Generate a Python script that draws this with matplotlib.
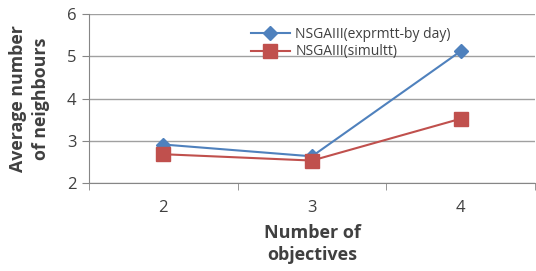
import matplotlib.pyplot as plt
import numpy as np

categories = ['2', '3', '4']
exprmtt = [2.91, 2.63, 5.12]
simultt = [2.68, 2.53, 3.52]
series_names = ['NSGAIII(exprmtt-by day)', 'NSGAIII(simultt)']

plt.rcParams['font.family'] = ['Open Sans', 'DejaVu Sans']

fig = plt.figure(figsize=(5.36, 2.71), dpi=100)
ax = fig.add_axes([0.166, 0.325, 0.832, 0.623])

x = np.arange(len(categories))
ax.plot(x, exprmtt, color='#4F81BD', linewidth=1.5, marker='D', markersize=7,
        label=series_names[0], zorder=3)
ax.plot(x, simultt, color='#C0504D', linewidth=1.5, marker='s', markersize=10,
        label=series_names[1], zorder=3)

ax.set_xlim(-0.5, 2.5)
ax.set_ylim(2, 6)
ax.set_yticks([2, 3, 4, 5, 6])
ax.set_xticks(x)
ax.set_xticklabels(categories)
ax.set_xticks([-0.5, 0.5, 1.5, 2.5], minor=True)
ax.tick_params(axis='x', which='major', length=0, pad=12, labelsize=12, colors='#404040')
ax.tick_params(axis='x', which='minor', length=5, direction='out', color='#868686')
ax.tick_params(axis='y', length=5, direction='out', color='#868686', labelsize=12,
               labelcolor='#404040', pad=4)

ax.grid(axis='y', color='#a0a0a0', linewidth=1)
ax.set_axisbelow(True)
for side in ['top', 'right']:
    ax.spines[side].set_visible(False)
for side in ['left', 'bottom']:
    ax.spines[side].set_color('#868686')

ax.set_xlabel('Number of\nobjectives', fontsize=13, fontweight='bold', color='#404040',
              labelpad=6, linespacing=1.3)
ax.set_ylabel('Average number\nof neighbours', fontsize=12.8, fontweight='bold', color='#404040',
              labelpad=12, linespacing=1.4)

ax.legend(loc='upper left', bbox_to_anchor=(0.335, 1.0), frameon=False, fontsize=10,
          handlelength=2.8, labelspacing=0.2, handletextpad=0.4, labelcolor='#404040')

fig.savefig('out.png', dpi=100)
